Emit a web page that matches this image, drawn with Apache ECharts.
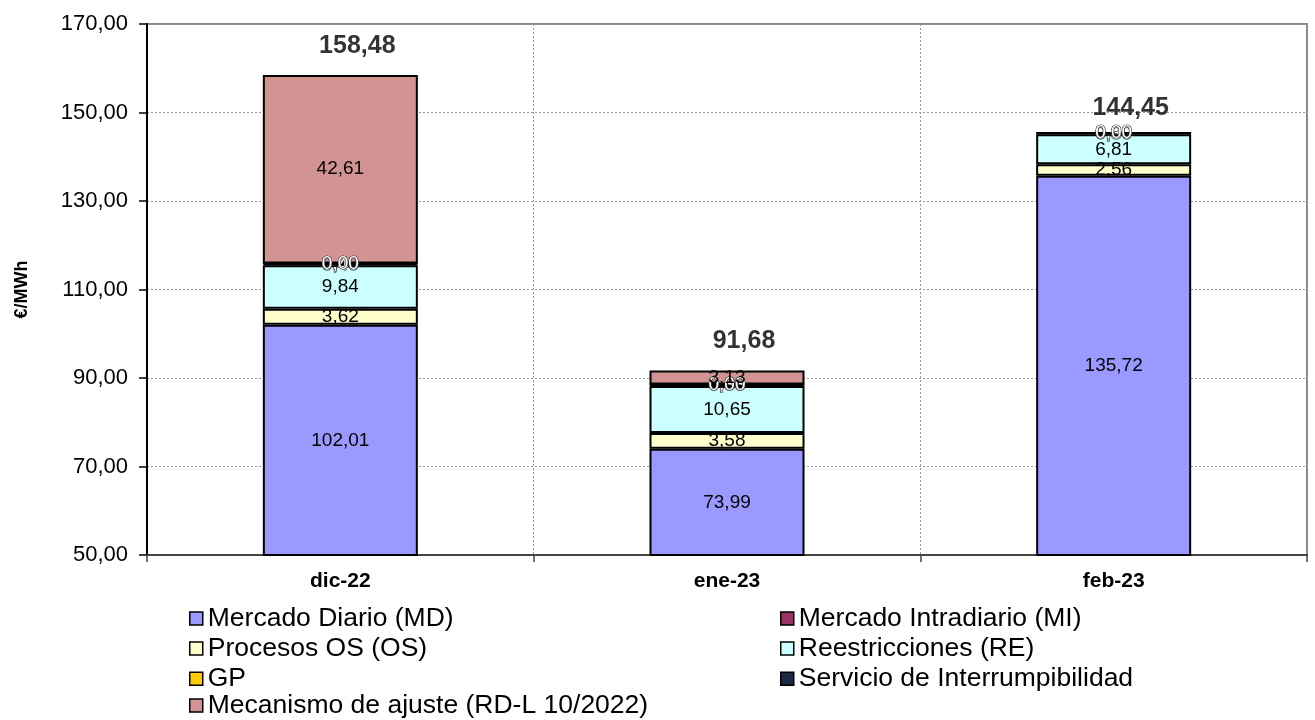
<!DOCTYPE html>
<html>
<head>
<meta charset="utf-8">
<script src="https://cdn.jsdelivr.net/npm/echarts@6/dist/echarts.min.js"></script>
<style>html,body{margin:0;padding:0;background:#fff}#c{width:1315px;height:720px}</style>
</head>
<body>
<div id="c"></div>
<script>
const categories = ['dic-22', 'ene-23', 'feb-23'];
const mercadoDiario = [102.01, 73.99, 135.72];
const mercadoIntradiario = [0, 0, 0];
const procesosOS = [3.62, 3.58, 2.56];
const restricciones = [9.84, 10.65, 6.81];
const gp = [0.40, 0.33, 0.30];
const interrumpibilidad = [0, 0, 0];
const mecanismo = [42.61, 3.13, -0.94];
const totals = [158.48, 91.68, 144.45];
const yTicks = { min: 50, max: 170, interval: 20 };

const FONT = '"Liberation Sans", Arial, sans-serif';
const fmt = v => v.toFixed(2).replace('.', ',');

const names = {
  md: 'Mercado Diario (MD)',
  mi: 'Mercado Intradiario (MI)',
  os: 'Procesos OS (OS)',
  re: 'Reestricciones (RE)',
  gp: 'GP',
  si: 'Servicio de Interrumpibilidad',
  mec: 'Mecanismo de ajuste (RD-L 10/2022)'
};

function barSeries(name, data, color, labelOpt, borderWidth) {
  return {
    name, type: 'bar', stack: 'total', data, barWidth: 155, clip: true,
    itemStyle: { color, borderColor: '#000', borderWidth: borderWidth === undefined ? 2 : borderWidth },
    label: Object.assign({
      show: true, position: 'inside', fontFamily: FONT, fontSize: 19, color: '#000',
      formatter: p => p.value < 0 ? '' : fmt(p.value)
    }, labelOpt || {})
  };
}
const whiteLbl = { color: '#fff', textBorderColor: '#333', textBorderWidth: 1.2 };

function legendCol(left, top, data) {
  return {
    orient: 'vertical', left, top, padding: 0, itemWidth: 13, itemHeight: 13, itemGap: 3.1, icon: 'rect',
    textStyle: { fontFamily: FONT, fontSize: 26.5, color: '#000', lineHeight: 25 },
    itemStyle: { borderColor: '#000', borderWidth: 1.5 },
    data
  };
}

const chart = echarts.init(document.getElementById('c'));
chart.setOption({
  animation: false,
  grid: { left: 147, right: 8, top: 24, bottom: 165, show: true, borderColor: '#888', borderWidth: 2 },
  xAxis: {
    type: 'category', data: categories,
    axisLine: { lineStyle: { color: '#444', width: 2 } },
    axisTick: { show: true, length: 7, lineStyle: { color: '#444', width: 1.5 } },
    axisLabel: { fontFamily: FONT, fontSize: 21, fontWeight: 'bold', color: '#000', margin: 16 },
    splitLine: { show: true, lineStyle: { color: '#999', type: [2, 2], width: 1 } }
  },
  yAxis: {
    type: 'value', min: yTicks.min, max: yTicks.max, interval: yTicks.interval,
    name: '€/MWh', nameLocation: 'middle', nameGap: 116,
    nameTextStyle: { fontFamily: FONT, fontSize: 18, fontWeight: 'bold', color: '#000' },
    axisLine: { show: true, lineStyle: { color: '#000', width: 2 } },
    axisTick: { show: true, length: 8, lineStyle: { color: '#000', width: 1.5 } },
    axisLabel: { fontFamily: FONT, fontSize: 22, color: '#000', margin: 19, formatter: v => fmt(v) },
    splitLine: { show: true, lineStyle: { color: '#999', type: [2, 2], width: 1 } }
  },
  legend: [
    legendCol(189, 605, [names.md, names.os, names.gp]),
    legendCol(189, 692, [names.mec]),
    legendCol(780, 605, [names.mi, names.re, names.si])
  ],
  series: [
    barSeries(names.md, mercadoDiario, '#9999FF'),
    barSeries(names.mi, mercadoIntradiario, '#993366', { show: false }, 0),
    barSeries(names.os, procesosOS, '#FFFFCC'),
    barSeries(names.re, restricciones, '#CCFFFF'),
    barSeries(names.gp, gp, '#FFCC00', whiteLbl),
    barSeries(names.si, interrumpibilidad, '#1B2A47', whiteLbl),
    barSeries(names.mec, mecanismo, '#D29393'),
    {
      name: 'Total', type: 'scatter', data: totals, symbolSize: 1,
      itemStyle: { color: 'rgba(0,0,0,0)' },
      label: {
        show: true, position: 'top', distance: 16, offset: [17, 0], fontFamily: FONT, fontSize: 25,
        fontWeight: 'bold', color: '#000', formatter: p => fmt(p.value)
      },
      z: 10
    }
  ]
});
</script>
</body>
</html>
